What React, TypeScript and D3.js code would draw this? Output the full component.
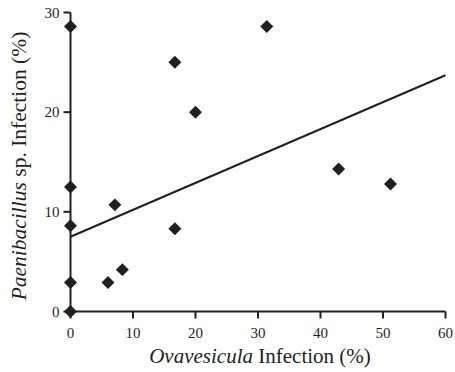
import * as d3 from "d3";

const W = 455;
const H = 372;

// readings: Ovavesicula infection (%) vs Paenibacillus infection (%)
const ovaInfection = [0, 0, 0, 0, 0, 6, 8.3, 7.1, 16.7, 20, 31.4, 16.7, 42.9, 51.2];
const paeniInfection = [0, 2.9, 8.6, 12.5, 28.6, 2.9, 4.2, 10.7, 25, 20, 28.6, 8.3, 14.3, 12.8];

const xTicks = [0, 10, 20, 30, 40, 50, 60];
const yTicks = [0, 10, 20, 30];

// linear trend line
const trendIntercept = 7.5;
const trendSlope = 0.27;

const ink = "#231f20";
const font = "'Liberation Serif', 'Times New Roman', serif";

export default function App() {
  const x = d3.scaleLinear().domain([0, 60]).range([70.5, 445.5]);
  const y = d3.scaleLinear().domain([0, 30]).range([311.5, 12.5]);

  const diamond = d3.symbol().type(d3.symbolSquare).size(84)();
  const trend = d3.line<number>()
    .x((d) => x(d))
    .y((d) => y(trendIntercept + trendSlope * d))([0, 60]);

  return (
    <svg
      width={W}
      height={H}
      style={{ position: "absolute", left: 0, top: 0, background: "#fff" }}
      fontFamily={font}
    >
      {/* y axis */}
      <line x1={x(0)} x2={x(0)} y1={y(0)} y2={y(30)} stroke={ink} strokeWidth={2} />
      {yTicks.map((t) => (
        <g key={`yt-${t}`}>
          <line x1={x(0) - 7} x2={x(0)} y1={y(t)} y2={y(t)} stroke={ink} strokeWidth={2} />
          <text x={x(0) - 11} y={y(t) + 5} textAnchor="end" fontSize={15} fill={ink}>
            {t}
          </text>
        </g>
      ))}

      {/* x axis */}
      <line x1={x(0)} x2={x(60)} y1={y(0)} y2={y(0)} stroke={ink} strokeWidth={2} />
      {xTicks.map((t) => (
        <g key={`xt-${t}`}>
          <line x1={x(t)} x2={x(t)} y1={y(0)} y2={y(0) + 7} stroke={ink} strokeWidth={2} />
          <text x={x(t)} y={y(0) + 26} textAnchor="middle" fontSize={15} fill={ink}>
            {t}
          </text>
        </g>
      ))}

      {/* trend */}
      <path d={trend ?? ""} fill="none" stroke={ink} strokeWidth={2} />

      {/* points */}
      {ovaInfection.map((v, i) => (
        <path
          key={`pt-${i}`}
          d={diamond ?? ""}
          transform={`translate(${x(v)},${y(paeniInfection[i])}) rotate(45)`}
          fill={ink}
        />
      ))}

      {/* titles */}
      <text x={260} y={363} textAnchor="middle" fontSize={21} fill={ink}>
        <tspan fontStyle="italic">Ovavesicula</tspan> Infection (%)
      </text>
      <text
        transform="translate(26,166) rotate(-90)"
        textAnchor="middle"
        fontSize={21.5}
        fill={ink}
      >
        <tspan fontStyle="italic">Paenibacillus</tspan> sp. Infection (%)
      </text>
    </svg>
  );
}
